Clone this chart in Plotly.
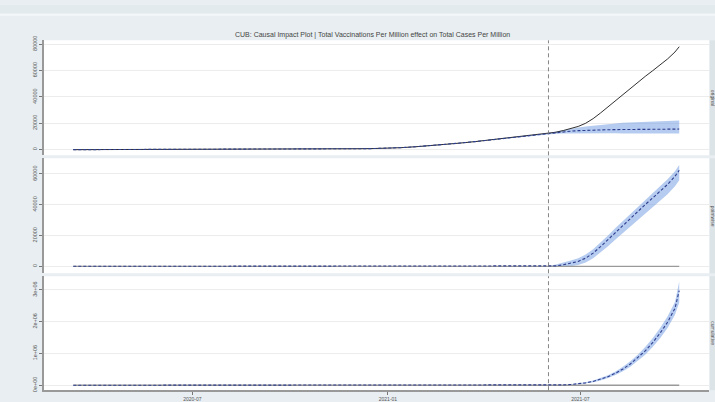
import pandas as pd
import plotly.graph_objects as go

# ---------------- data ----------------
pre_dates = list(pd.date_range("2020-03-11", "2021-05-31", freq="14D"))
post_dates = list(pd.date_range("2021-06-01", "2021-09-28", freq="7D")) + [pd.Timestamp("2021-10-02")]
intervention = "2021-06-01"

pre_actual = [0.3, 5, 45, 100, 160, 170, 185, 200, 207, 215, 225, 270, 320, 390, 460, 520,
              560, 600, 650, 710, 800, 1060, 1500, 2200, 2950, 3900, 5000, 6100, 7400, 8700, 9900, 11000]
pre_pred = [0, 6, 44, 101, 158, 172, 184, 199, 208, 216, 226, 268, 322, 388, 462, 518,
            561, 602, 648, 712, 805, 1050, 1510, 2190, 2960, 3890, 5010, 6090, 7410, 8690, 9910, 10990]
pre_pred_lower = [-60, -50, 0, 50, 100, 110, 120, 135, 140, 150, 160, 200, 250, 315, 385, 440,
                  480, 520, 565, 625, 715, 955, 1405, 2080, 2840, 3760, 4870, 5940, 7250, 8520, 9730, 10800]
pre_pred_upper = [60, 62, 88, 152, 216, 234, 248, 263, 276, 282, 292, 336, 394, 461, 539, 596,
                  642, 684, 731, 799, 895, 1145, 1615, 2300, 3080, 4020, 5150, 6240, 7570, 8860, 10090, 11180]

post_actual = [12100, 13200, 14500, 16000, 17600, 20000, 23500, 27800, 32500, 37300,
               41800, 46300, 51000, 55500, 59800, 64200, 68700, 74000, 78000]
post_pred = [12100, 12900, 13500, 14000, 14400, 14700, 14900, 15000, 15100, 15200,
             15200, 15300, 15300, 15400, 15400, 15500, 15500, 15500, 15600]
post_pred_lower = [11900, 12100, 12200, 12300, 12400, 12400, 12400, 12400, 12400, 12400,
                   12300, 12300, 12300, 12300, 12200, 12200, 12200, 12200, 12200]
post_pred_upper = [12300, 13700, 14900, 15900, 16800, 17600, 18300, 18900, 19400, 19900,
                   20300, 20600, 20900, 21200, 21400, 21600, 21800, 21900, 22000]

post_cum = [0, 5000, 12000, 25000, 45000, 75000, 120000, 185000, 270000, 380000,
            510000, 670000, 860000, 1080000, 1340000, 1640000, 1980000, 2420000, 2980000]
post_cum_lower = [0, 4000, 8000, 17000, 32000, 55000, 92000, 150000, 225000, 325000,
                  440000, 585000, 760000, 960000, 1200000, 1480000, 1800000, 2220000, 2600000]
post_cum_upper = [0, 6000, 16000, 33000, 58000, 95000, 148000, 220000, 315000, 435000,
                  580000, 755000, 960000, 1200000, 1480000, 1800000, 2160000, 2620000, 3260000]
pre_cum = [0] * len(pre_dates)

y1_ticks = [0, 20000, 40000, 60000, 80000]
y1_text = ["0", "20000", "40000", "60000", "80000"]
y2_ticks = [0, 20000, 40000, 60000]
y2_text = ["0", "20000", "40000", "60000"]
y3_ticks = [0, 1e6, 2e6, 3e6]
y3_text = ["0e+00", "1e+06", "2e+06", "3e+06"]
x_ticks = ["2020-07-01", "2021-01-01", "2021-07-01"]
x_text = ["2020-07", "2021-01", "2021-07"]
title = "CUB: Causal Impact Plot | Total Vaccinations Per Million effect on Total Cases Per Million"
panel_labels = ["original", "pointwise", "cumulative"]

# ---------------- derived series ----------------
dates = pre_dates + post_dates
actual = pre_actual + post_actual
pred = pre_pred + post_pred
pred_lo = pre_pred_lower + post_pred_lower
pred_hi = pre_pred_upper + post_pred_upper
point = [a - p for a, p in zip(actual, pred)]
point_lo = [a - h for a, h in zip(actual, pred_hi)]
point_hi = [a - l for a, l in zip(actual, pred_lo)]
cum = pre_cum + post_cum
cum_lo = pre_cum + post_cum_lower
cum_hi = pre_cum + post_cum_upper

# ---------------- styles ----------------
BG = "#e8eef1"
BAND = "rgba(120,160,225,0.55)"
DASH = "#2f3f8f"
FONT = "Liberation Sans"
W, H = 715, 402

fig = go.Figure()


def band(lo, hi, xa, ya):
    fig.add_trace(go.Scatter(x=dates, y=lo, mode="lines", line=dict(width=0),
                             hoverinfo="skip", showlegend=False, xaxis=xa, yaxis=ya))
    fig.add_trace(go.Scatter(x=dates, y=hi, mode="lines", line=dict(width=0),
                             fill="tonexty", fillcolor=BAND, hoverinfo="skip",
                             showlegend=False, xaxis=xa, yaxis=ya))


def dashed(y, xa, ya):
    fig.add_trace(go.Scatter(x=dates, y=y, mode="lines",
                             line=dict(color=DASH, width=1.1, dash="3px,2px"),
                             showlegend=False, xaxis=xa, yaxis=ya))


def zero(xa, ya):
    fig.add_trace(go.Scatter(x=[dates[0], dates[-1]], y=[0, 0], mode="lines",
                             line=dict(color="#9a9a9a", width=1.3),
                             showlegend=False, xaxis=xa, yaxis=ya))


# panel 1
band(pred_lo, pred_hi, "x", "y")
fig.add_trace(go.Scatter(x=dates, y=actual, mode="lines", line=dict(color="#1a1a1a", width=0.9),
                         showlegend=False, xaxis="x", yaxis="y"))
dashed(pred, "x", "y")
# panel 2
band(point_lo, point_hi, "x2", "y2")
zero("x2", "y2")
dashed(point, "x2", "y2")
# panel 3
band(cum_lo, cum_hi, "x3", "y3")
zero("x3", "y3")
dashed(cum, "x3", "y3")


def py(px):
    return 1 - px / H


xdom = [43.5 / W, 709 / W]
doms = [[py(153), py(36)], [py(273), py(156)], [py(392), py(276)]]
yranges = [[-4300, 82800], [-4500, 70200], [-155000, 3430000]]
yt = [(y1_ticks, y1_text), (y2_ticks, y2_text), (y3_ticks, y3_text)]
xr = ["2020-02-12", "2021-10-30"]

for i in range(3):
    sfx = "" if i == 0 else str(i + 1)
    fig.layout["xaxis" + sfx] = dict(
        domain=xdom, range=xr, type="date", anchor="y" + sfx,
        showgrid=False, zeroline=False,
        showticklabels=(i == 2), tickvals=x_ticks, ticktext=x_text,
        ticks="outside" if i == 2 else "", ticklen=3, tickcolor="#777",
        showline=(i == 2), linecolor="#999", linewidth=1.5,
        tickfont=dict(size=5, color="#555", family=FONT),
        matches=None if i == 0 else "x",
    )
    fig.layout["yaxis" + sfx] = dict(
        domain=doms[i], range=yranges[i], anchor="x" + sfx,
        tickvals=yt[i][0], ticktext=yt[i][1], tickangle=-90,
        tickfont=dict(size=5.5, color="#555", family=FONT),
        showgrid=True, gridcolor="#ececec", gridwidth=0.6, zeroline=False,
        ticks="outside", ticklen=3, tickcolor="#777",
        showline=True, linecolor="#999", linewidth=1.5,
    )
    # panel background
    fig.add_shape(type="rect", xref="paper", yref="paper", x0=xdom[0], x1=xdom[1],
                  y0=doms[i][0], y1=doms[i][1], fillcolor="white", line=dict(width=0),
                  layer="below")
    # right strip
    fig.add_shape(type="rect", xref="paper", yref="paper", x0=710 / W, x1=1,
                  y0=doms[i][0], y1=doms[i][1], fillcolor="#dde4e8", line=dict(width=0),
                  layer="below")
    fig.add_annotation(x=713 / W, y=(doms[i][0] + doms[i][1]) / 2, xref="paper", yref="paper",
                       text=panel_labels[i], textangle=90, showarrow=False,
                       xanchor="center", yanchor="middle",
                       font=dict(size=5, color="#555", family=FONT))
    # intervention line
    fig.add_shape(type="line", xref="x" + sfx, yref="y" + sfx + " domain",
                  x0=intervention, x1=intervention, y0=0, y1=1,
                  line=dict(color="#777", width=0.9, dash="4px,3px"))

# top strip of page
fig.add_shape(type="rect", xref="paper", yref="paper", x0=0, x1=1, y0=py(9), y1=1,
              fillcolor="#e3eaee", line=dict(width=0), layer="below")
fig.add_shape(type="line", xref="paper", yref="paper", x0=0, x1=1, y0=py(10), y1=py(10),
              line=dict(color="#f4f7f8", width=2), layer="below")

fig.add_annotation(x=372 / W, y=py(31), xref="paper", yref="paper", text=title,
                   xanchor="center", yanchor="middle", showarrow=False,
                   font=dict(size=7, color="#444", family=FONT))

fig.update_layout(width=W, height=H, margin=dict(l=0, r=0, t=0, b=0),
                  paper_bgcolor=BG, plot_bgcolor="rgba(0,0,0,0)", showlegend=False,
                  font=dict(family=FONT))

fig.write_html("out.html", config={"displayModeBar": False},
               post_script="document.body.style.margin='0px';document.body.style.overflow='hidden';")
